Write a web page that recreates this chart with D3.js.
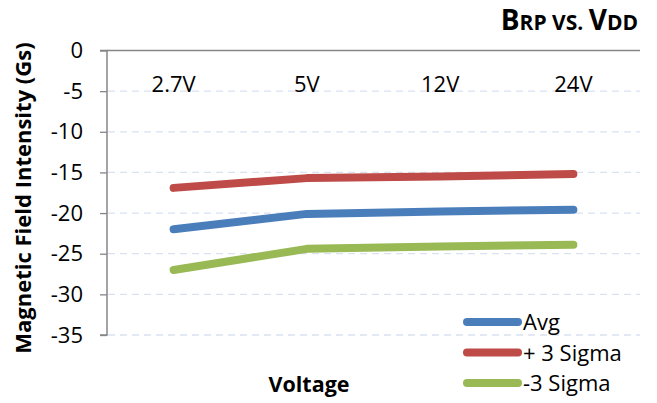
<!DOCTYPE html>
<html><head><meta charset="utf-8">
<script src="https://cdn.jsdelivr.net/npm/d3@7"></script>
<style>body{margin:0;background:#fff}svg{display:block}text{font-family:"Open Sans","Noto Sans",sans-serif}</style>
</head><body><svg id="c" width="657" height="403"></svg>
<script>
const categories = ["2.7V", "5V", "12V", "24V"];
const seriesNames = ["Avg", "+ 3 Sigma", "-3 Sigma"];
const avgValues = [-22.0, -20.1, -19.8, -19.6];
const plusSigmaValues = [-16.9, -15.7, -15.5, -15.2];
const minusSigmaValues = [-27.0, -24.4, -24.1, -23.9];
const yTicks = [0, -5, -10, -15, -20, -25, -30, -35];
const colors = ["#4a7ebb", "#be4b48", "#98b954"];

const svg = d3.select("#c");
const x = d3.scaleBand().domain(categories).range([107, 640]);
const y = d3.scaleLinear().domain([-35, 0]).range([335, 50.5]);

// gridlines
svg.append("g").selectAll("line").data(yTicks.filter(d => d !== 0)).join("line")
  .attr("x1", 108).attr("x2", 640).attr("y1", d => y(d)).attr("y2", d => y(d))
  .attr("stroke", "#d9e2f1").attr("stroke-width", 1.3).attr("stroke-dasharray", "7,5");

// y axis
const ya = svg.append("g").attr("transform", "translate(107,0)")
  .call(d3.axisLeft(y).tickValues(yTicks).tickSize(7).tickPadding(17).tickFormat(d => String(d)));
ya.select(".domain").attr("stroke", "#868686").attr("stroke-width", 1.5).attr("d", "M-7,50.5H0V335H-7");
ya.selectAll(".tick line").attr("stroke", "#868686").attr("stroke-width", 1.3);
ya.selectAll(".tick text").attr("font-size", 22).attr("fill", "#000").attr("font-family", "'Open Sans'");

// top x axis line
svg.append("line").attr("x1", 107).attr("x2", 640).attr("y1", y(0)).attr("y2", y(0))
  .attr("stroke", "#868686").attr("stroke-width", 1.5);

// category labels
svg.append("g").selectAll("text").data(categories).join("text")
  .attr("x", d => x(d) + x.bandwidth() / 2).attr("y", 92)
  .attr("text-anchor", "middle").attr("font-size", 22).attr("fill", "#000").text(d => d);

// lines
const allSeries = [avgValues, plusSigmaValues, minusSigmaValues];
const line = d3.line().x((d, i) => x(categories[i]) + x.bandwidth() / 2).y(d => y(d));
const order = [1, 0, 2];
order.forEach(k => {
  svg.append("path").datum(allSeries[k]).attr("d", line)
    .attr("fill", "none").attr("stroke", colors[k]).attr("stroke-width", 8)
    .attr("stroke-linecap", "round").attr("stroke-linejoin", "round");
});

// legend
const lg = svg.append("g");
seriesNames.forEach((n, i) => {
  const ly = 322 + i * 30.5;
  lg.append("line").attr("x1", 467).attr("x2", 518).attr("y1", ly).attr("y2", ly)
    .attr("stroke", colors[i]).attr("stroke-width", 8).attr("stroke-linecap", "round");
  lg.append("text").attr("x", 523).attr("y", ly + 8).attr("font-size", 22).attr("fill", "#000").text(n);
});

// axis titles
svg.append("text").attr("transform", "translate(31,198) rotate(-90)")
  .attr("text-anchor", "middle").attr("font-size", 22).attr("font-weight", "bold").text("Magnetic Field Intensity (Gs)");
svg.append("text").attr("x", 309).attr("y", 392).attr("text-anchor", "middle")
  .attr("font-size", 21.5).attr("font-weight", "bold").text("Voltage");

// title (small caps)
const t = svg.append("text").attr("x", 638).attr("y", 30).attr("text-anchor", "end").attr("font-weight", "bold").attr("fill", "#000");
[["B", 28], ["RP", 21], [" VS. ", 21], ["V", 28], ["DD", 21]].forEach(([s, fs]) => {
  t.append("tspan").attr("font-size", fs).text(s);
});
</script></body></html>
